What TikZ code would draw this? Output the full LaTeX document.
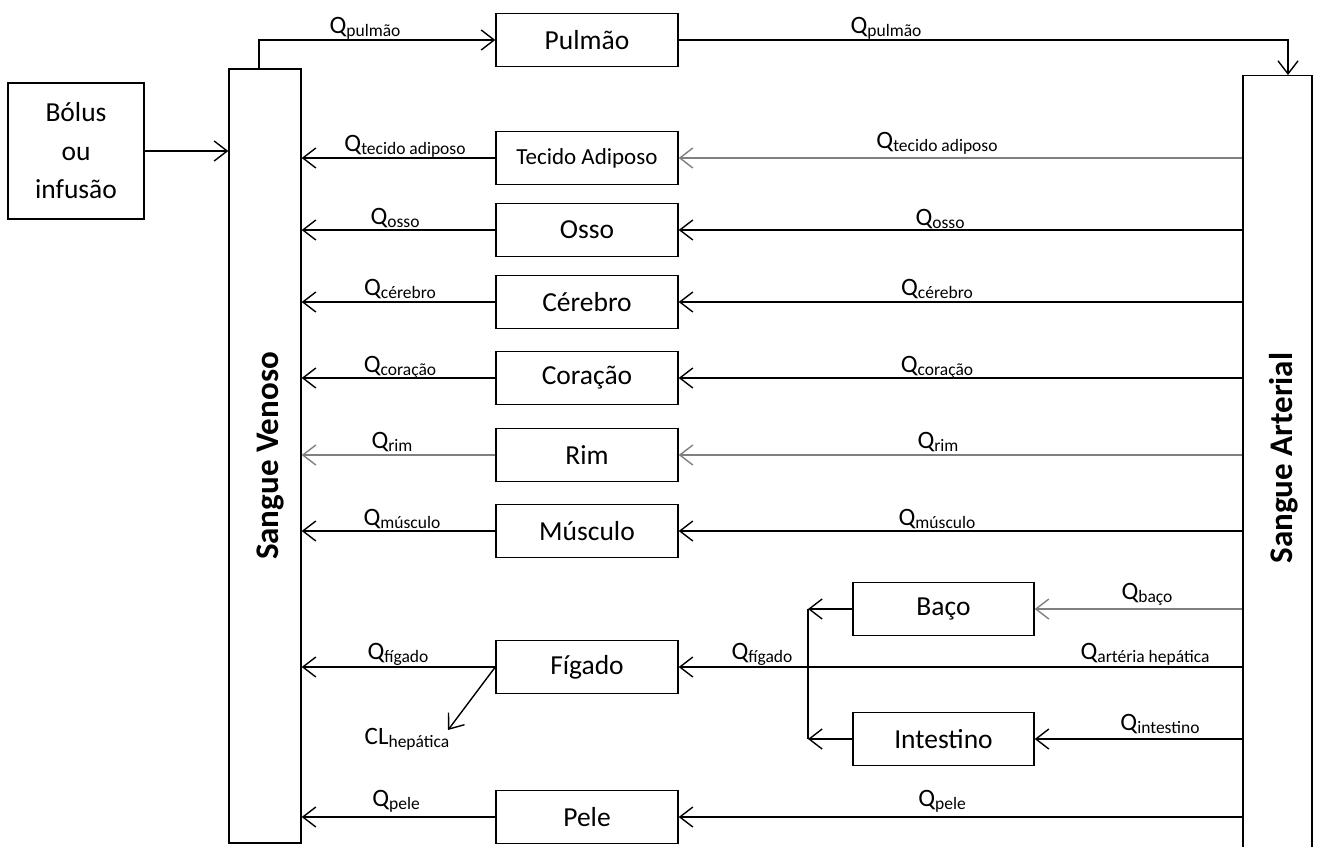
\documentclass[tikz,border=0pt]{standalone}
\usepackage{fontspec}
\setmainfont{Carlito}
\usetikzlibrary{arrows.meta}

% flow label: Q (or CL) with a large lowered subscript
\newcommand\qflow[2]{{\fontsize{25}{25}\selectfont #1}\raisebox{-3pt}{\fontsize{17.5}{17.5}\selectfont #2}}

\begin{document}
\begin{tikzpicture}[x=1pt,y=-1pt,
  box/.style={draw, line width=1.4pt, inner sep=0pt, font=\fontsize{27.5}{30}\selectfont},
  organ/.style={box, minimum width=182pt, minimum height=53pt},
  flow/.style={line width=1.4pt, -{Straight Barb[length=13pt,width=20pt,line width=1.4pt]}},
  grayflow/.style={flow, draw=black!50},
  lab/.style={anchor=base, inner sep=0pt},
  title/.style={rotate=90, font=\bfseries\fontsize{33}{33}\selectfont}
]
\useasboundingbox (0,0) rectangle (1319,846);

% input and blood pools
\node[box, minimum width=136pt, minimum height=136pt, align=center,
      font=\fontsize{27.5}{38.5}\selectfont] (bolus) at (76,151) {Bólus\\ou\\infusão};
\node[box, minimum width=72pt, minimum height=774pt] (ven) at (265,456) {};
\node[title] at (270,456) {Sangue Venoso};
\node[box, minimum width=69pt, minimum height=830pt, anchor=north] (art) at (1277.5,75) {};
\node[title] at (1284,458) {Sangue Arterial};

% organs
\node[organ] (pulmao) at (587,40) {Pulmão};
\node[organ, font=\fontsize{23}{25}\selectfont] (tecido) at (587,158) {Tecido Adiposo};
\node[organ] (osso) at (587,230) {Osso};
\node[organ] (cerebro) at (587,302) {Cérebro};
\node[organ] (coracao) at (587,378) {Coração};
\node[organ] (rim) at (587,455) {Rim};
\node[organ] (musculo) at (587,531) {Músculo};
\node[organ] (figado) at (587,667) {Fígado};
\node[organ] (pele) at (587,817) {Pele};
\node[organ, minimum width=181pt] (baco) at (943.5,609) {Baço};
\node[organ, minimum width=181pt] (intest) at (943.5,739) {Intestino};

% junction of the splanchnic outflows
\coordinate (jtop) at (808,609);
\coordinate (jbot) at (808,739);
\coordinate (clend) at (448,730);

% bolus into venous blood
\draw[flow] (bolus) -- (ven.west |- bolus);

% lung circuit
\draw[flow] ([xshift=-6pt]ven.north) |- (pulmao.west);
\draw[flow] (pulmao.east) -| ([xshift=10.5pt]art.north);

% arterial supply
\draw[grayflow] (art.west |- tecido) -- (tecido);
\draw[flow] (art.west |- osso) -- (osso);
\draw[flow] (art.west |- cerebro) -- (cerebro);
\draw[flow] (art.west |- coracao) -- (coracao);
\draw[grayflow] (art.west |- rim) -- (rim);
\draw[flow] (art.west |- musculo) -- (musculo);
\draw[grayflow] (art.west |- baco) -- (baco);
\draw[flow] (art.west |- figado) -- (figado);
\draw[flow] (art.west |- intest) -- (intest);
\draw[flow] (art.west |- pele) -- (pele);

% venous return
\draw[flow] (tecido) -- (ven.east |- tecido);
\draw[flow] (osso) -- (ven.east |- osso);
\draw[flow] (cerebro) -- (ven.east |- cerebro);
\draw[flow] (coracao) -- (ven.east |- coracao);
\draw[grayflow] (rim) -- (ven.east |- rim);
\draw[flow] (musculo) -- (ven.east |- musculo);
\draw[flow] (figado) -- (ven.east |- figado);
\draw[flow] (pele) -- (ven.east |- pele);

% spleen and gut drain to the portal line
\draw[flow] (baco) -- (jtop);
\draw[flow] (intest) -- (jbot);
\draw[line width=1.4pt] (jtop) -- (jbot);

% hepatic clearance
\draw[flow] (figado.west) -- (clend);

% flow labels
\node[lab] at (365,33) {\qflow{Q}{pulmão}};
\node[lab] at (886,33) {\qflow{Q}{pulmão}};
\node[lab] at (405,151) {\qflow{Q}{tecido adiposo}};
\node[lab] at (937,148) {\qflow{Q}{tecido adiposo}};
\node[lab] at (395,224) {\qflow{Q}{osso}};
\node[lab] at (940,225) {\qflow{Q}{osso}};
\node[lab] at (400,295) {\qflow{Q}{cérebro}};
\node[lab] at (937,295) {\qflow{Q}{cérebro}};
\node[lab] at (400,372) {\qflow{Q}{coração}};
\node[lab] at (937,372) {\qflow{Q}{coração}};
\node[lab] at (392,448) {\qflow{Q}{rim}};
\node[lab] at (938,448) {\qflow{Q}{rim}};
\node[lab] at (402,525) {\qflow{Q}{músculo}};
\node[lab] at (937,525) {\qflow{Q}{músculo}};
\node[lab] at (1147,599) {\qflow{Q}{baço}};
\node[lab] at (398,659) {\qflow{Q}{fígado}};
\node[lab] at (762,659) {\qflow{Q}{fígado}};
\node[lab] at (1145,659) {\qflow{Q}{artéria hepática}};
\node[lab] at (1160,730) {\qflow{Q}{intestino}};
\node[lab] at (407,744) {\qflow{CL}{hepática}};
\node[lab] at (396,806) {\qflow{Q}{pele}};
\node[lab] at (942,806) {\qflow{Q}{pele}};
\end{tikzpicture}
\end{document}
